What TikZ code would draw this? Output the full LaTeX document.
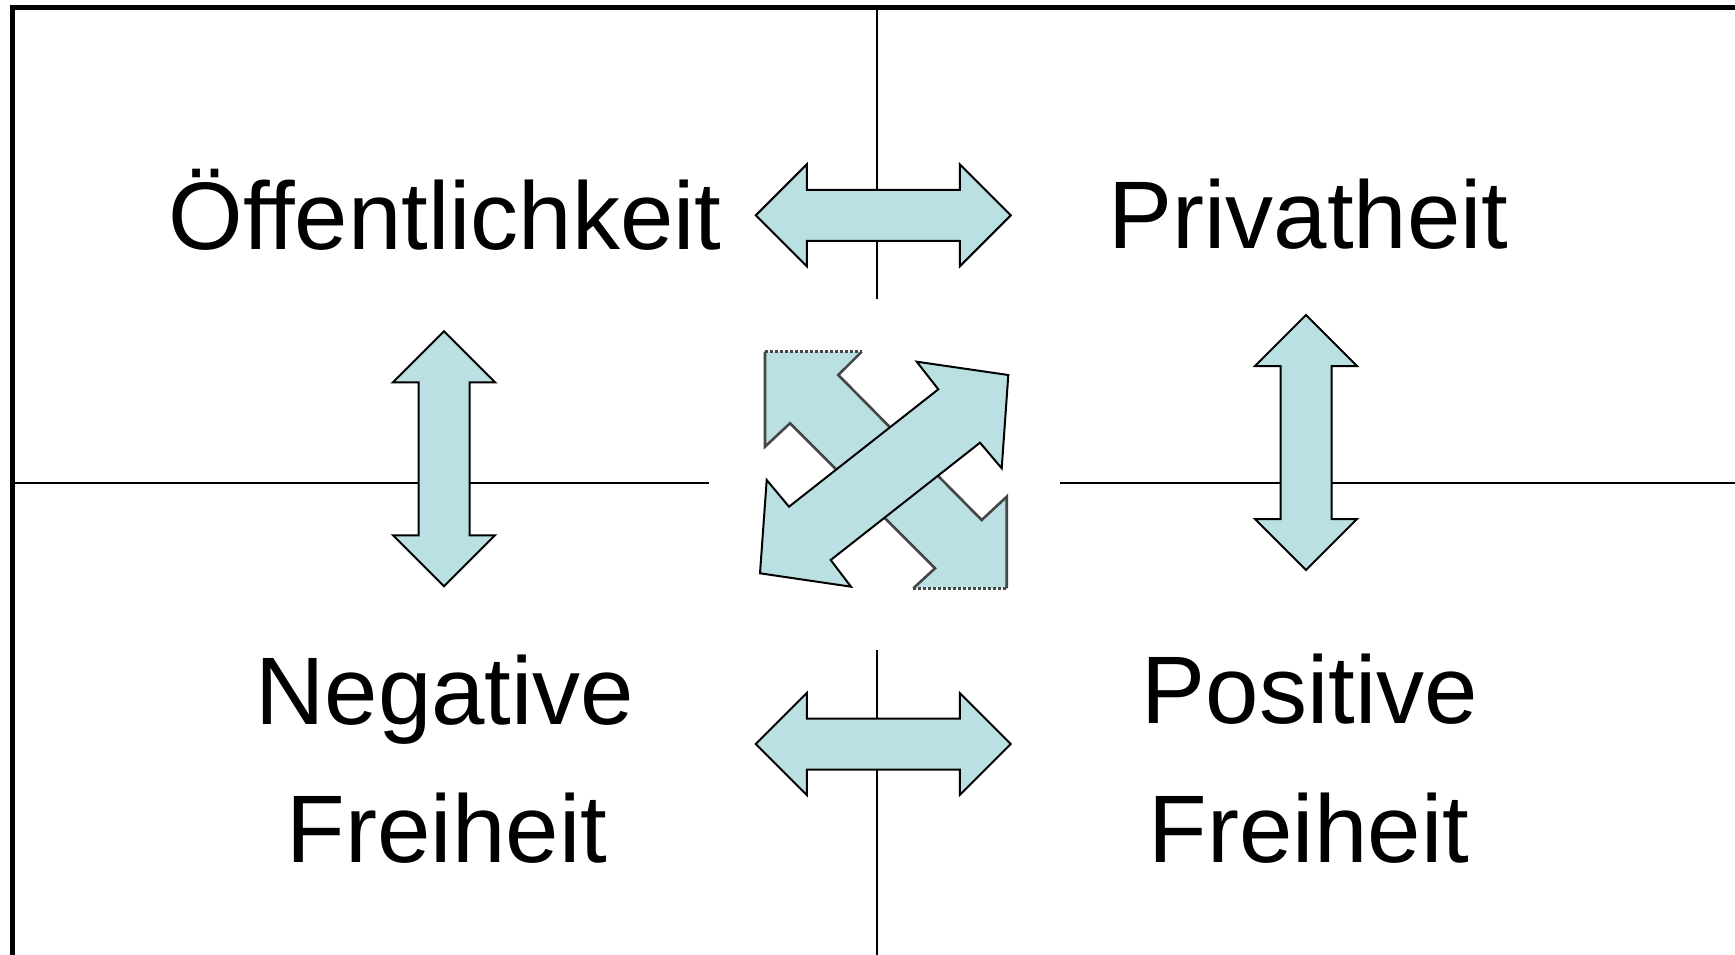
\documentclass[tikz,border=0pt]{standalone}
\usepackage{fontspec}
\setmainfont[Ligatures={NoCommon}]{Liberation Sans}
\definecolor{arrowfill}{RGB}{187,224,227}
\definecolor{shadowline}{RGB}{70,70,70}
\tikzset{
  label/.style={inner sep=0pt, anchor=base, font=\fontsize{96}{115}\selectfont},
  divider/.style={draw=black, line width=2pt},
  arrowshape/.style={fill=arrowfill, draw=black, line width=2pt, line join=miter},
  dbl/.pic={
    \path[arrowshape] (-127.5,0) -- (-76.5,-51) -- (-76.5,-25.5) -- (76.5,-25.5)
      -- (76.5,-51) -- (127.5,0) -- (76.5,51) -- (76.5,25.5) -- (-76.5,25.5)
      -- (-76.5,51) -- cycle;
  }
}
\begin{document}
\begin{tikzpicture}[x=1pt,y=-1pt]
\useasboundingbox (0,0) rectangle (1735,955);
% frame
\draw[line width=5pt] (12.5,1000) -- (12.5,7.5) -- (1800,7.5);
% quadrant dividers
\coordinate (vt1) at (877,10);
\coordinate (vt2) at (877,299);
\coordinate (vb1) at (877,650);
\coordinate (vb2) at (877,960);
\coordinate (hl1) at (15,482.5);
\coordinate (hl2) at (709,482.5);
\coordinate (hr1) at (1060,482.5);
\coordinate (hr2) at (1740,482.5);
\draw[divider] (vt1) -- (vt2);
\draw[divider] (vb1) -- (vb2);
\draw[divider] (hl1) -- (hl2);
\draw[divider] (hr1) -- (hr2);
% double arrows
\pic at (883.3,215.3) {dbl};
\pic at (883.3,744) {dbl};
\pic[rotate=90] at (444,458.8) {dbl};
\pic[rotate=90] at (1306,442.5) {dbl};
% central crossing arrows (back: NW-SE, clipped)
\fill[arrowfill] (765,351.7) -- (861.7,351.7) -- (838.3,375) -- (981.7,520)
  -- (1006.7,496.7) -- (1006.7,588.3) -- (913.3,588.3) -- (935,568.3)
  -- (790,423.3) -- (765,446.7) -- cycle;
\draw[shadowline, line width=2.6pt, line join=miter]
  (861.7,351.7) -- (838.3,375) -- (981.7,520) -- (1006.7,496.7) -- (1006.7,588.3);
\draw[shadowline, line width=2.6pt, line join=miter]
  (913.3,588.3) -- (935,568.3) -- (790,423.3) -- (765,446.7) -- (765,351.7);
\draw[shadowline, line width=2.6pt, dash pattern=on 3pt off 2pt]
  (765,351.7) -- (861.7,351.7);
\draw[shadowline, line width=2.6pt, dash pattern=on 3pt off 2pt]
  (913.3,588.3) -- (1006.7,588.3);
% front: NE-SW
\path[arrowshape] (1008.3,375) -- (1001.7,468.3) -- (980,442.7) -- (830.7,560)
  -- (851,586.7) -- (760,573.3) -- (766.7,480) -- (789,506.7) -- (938.3,389.3)
  -- (916.7,361.7) -- cycle;
% labels
\node[label] (oeff) at (445,249) {Öffentlichkeit};
\node[label] (priv) at (1308.5,248.5) {Privatheit};
\node[label] (neg) at (445,724) {Negative};
\node[label] (negf) at (447,862) {Freiheit};
\node[label] (pos) at (1310,723.5) {Positive};
\node[label] (posf) at (1309,862) {Freiheit};
\end{tikzpicture}
\end{document}
